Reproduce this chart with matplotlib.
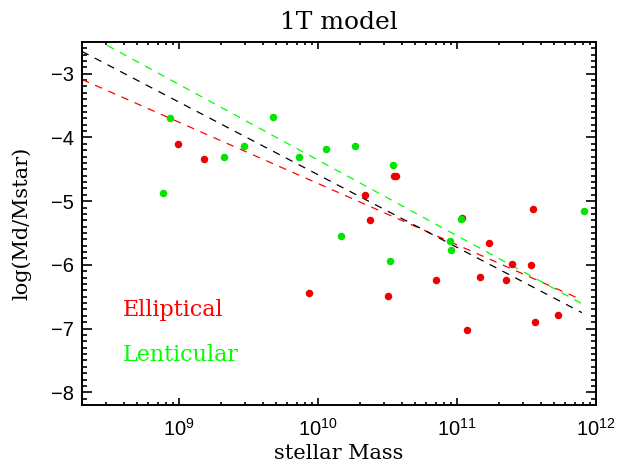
import numpy as np
import matplotlib
matplotlib.use('Agg')
import matplotlib.pyplot as plt
from matplotlib.ticker import LogLocator, MultipleLocator, FuncFormatter, NullFormatter

# Elliptical galaxies
ell_mass = [9.8e8, 1.51e9, 3.54e10, 3.64e10, 2.19e10, 2.38e10, 1.09e11, 3.52e11,
            1.69e11, 2.50e11, 3.39e11, 2.25e11, 1.45e11, 7.10e10, 8.55e9, 3.17e10,
            5.30e11, 3.66e11, 1.17e11]
ell_ratio = [-4.11, -4.34, -4.61, -4.60, -4.91, -5.29, -5.26, -5.12,
             -5.66, -5.99, -6.00, -6.23, -6.19, -6.24, -6.44, -6.49,
             -6.78, -6.90, -7.02]

# Lenticular galaxies
len_mass = [7.7e8, 8.6e8, 2.11e9, 2.92e9, 4.71e9, 7.33e9, 1.13e10, 1.83e10,
            1.46e10, 3.43e10, 3.27e10, 8.91e10, 8.99e10, 1.07e11, 8.15e11]
len_ratio = [-4.87, -3.70, -4.31, -4.13, -3.68, -4.31, -4.18, -4.13,
             -5.55, -4.44, -5.94, -5.63, -5.76, -5.28, -5.16]

# fitted lines, end points
fit_mass = [2.0e8, 7.9e11]
fit_ell = [-3.09, -6.55]
fit_all = [-2.65, -6.75]
fit_len = [-2.34, -6.61]

red = '#ff0000'
green = '#00ff00'

fig = plt.figure(figsize=(6.21, 4.65), dpi=100)
ax = fig.add_axes([0.132, 0.129, 0.828, 0.781])

dash = (0, (6, 5.5))
ax.plot(fit_mass, fit_ell, color=red, lw=0.9, ls=dash)
ax.plot(fit_mass, fit_all, color='black', lw=0.9, ls=dash)
ax.plot(fit_mass, fit_len, color=green, lw=0.9, ls=dash)

ax.plot(ell_mass, ell_ratio, 'o', color='#f00000', ms=5.4, mec='none')
ax.plot(len_mass, len_ratio, 'o', color='#00e400', ms=5.4, mec='none')

ax.set_xscale('log')
ax.set_xlim(2.0e8, 1e12)
ax.set_ylim(-8.2, -2.5)

ax.xaxis.set_major_locator(LogLocator(base=10, numticks=10))
ax.xaxis.set_minor_locator(LogLocator(base=10, subs=np.arange(2, 10), numticks=20))
ax.xaxis.set_minor_formatter(NullFormatter())
ax.xaxis.set_major_formatter(FuncFormatter(lambda v, p: r'$\mathregular{10^{%d}}$' % round(np.log10(v))))
ax.yaxis.set_major_locator(MultipleLocator(1))
ax.yaxis.set_minor_locator(MultipleLocator(0.1))

ax.tick_params(which='both', direction='in', top=True, right=True, width=1.2)
ax.tick_params(axis='x', which='major', length=5, pad=9)
ax.tick_params(axis='x', which='minor', length=2.5)
ax.tick_params(axis='y', which='major', length=7, pad=6)
ax.tick_params(axis='y', which='minor', length=3.5)
for lab in ax.get_xticklabels() + ax.get_yticklabels():
    lab.set_fontfamily('Liberation Sans')
    lab.set_fontsize(14.5)
for s in ax.spines.values():
    s.set_linewidth(1.4)

serif = 'DejaVu Serif'
ax.set_title('1T model', fontsize=18, family=serif, pad=9)
ax.set_xlabel('stellar Mass', fontsize=15, family=serif, labelpad=3)
ax.set_ylabel('log(Md/Mstar)', fontsize=15, family=serif, labelpad=14)

ax.text(0.08, 0.262, 'Elliptical', color=red, fontsize=16, family=serif,
        transform=ax.transAxes, va='center')
ax.text(0.08, 0.138, 'Lenticular', color=green, fontsize=16, family=serif,
        transform=ax.transAxes, va='center')

fig.savefig('out.png', dpi=100)
